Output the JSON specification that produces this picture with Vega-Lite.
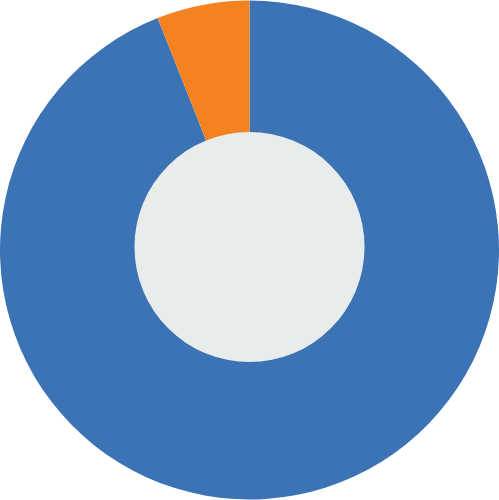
{
  "$schema": "https://vega.github.io/schema/vega-lite/v6.json",
  "width": 499,
  "height": 500,
  "autosize": {"type": "fit", "contains": "padding"},
  "padding": 0,
  "background": "white",
  "view": {"stroke": null},
  "resolve": {"scale": {"theta": "independent", "color": "independent"}},
  "layer": [
    {
      "data": {"values": [
        {"category": "A", "value": 94},
        {"category": "B", "value": 6}
      ]},
      "mark": {"type": "arc", "outerRadius": 249.5, "stroke": null},
      "encoding": {
        "theta": {"field": "value", "type": "quantitative", "stack": true},
        "order": {"field": "category", "type": "nominal", "sort": "ascending"},
        "color": {
          "field": "category",
          "type": "nominal",
          "scale": {"domain": ["A", "B"], "range": ["#3b73b5", "#f58220"]},
          "legend": null
        }
      }
    },
    {
      "data": {"values": [{"value": 1}]},
      "mark": {"type": "arc", "outerRadius": 115, "fill": "#e8ecea", "stroke": null, "yOffset": -3},
      "encoding": {
        "theta": {"field": "value", "type": "quantitative", "stack": true}
      }
    }
  ]
}
